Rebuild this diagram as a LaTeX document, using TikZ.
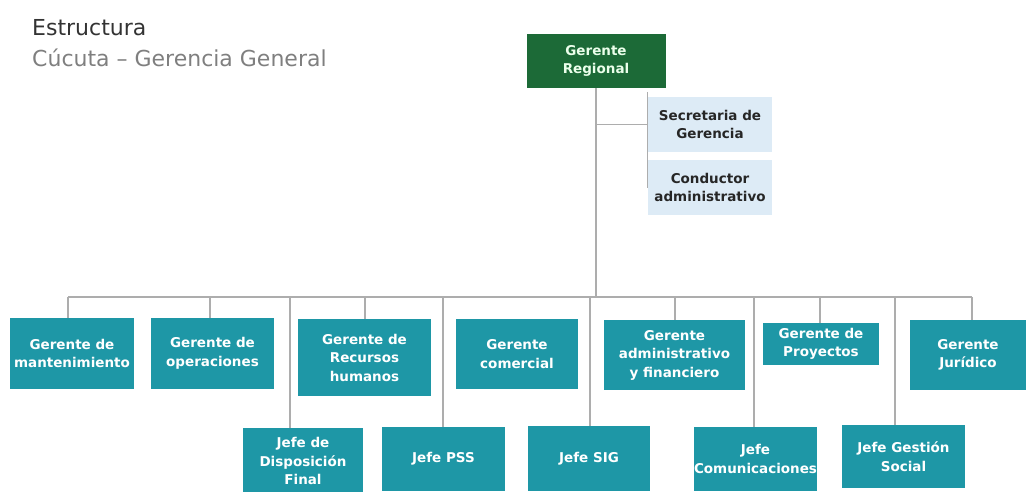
\documentclass[tikz,border=0pt]{standalone}
\usepackage{fontspec}
\setmainfont{DejaVu Sans}
\definecolor{verdereg}{HTML}{1C6A37}
\definecolor{tealcaja}{HTML}{1E97A6}
\definecolor{azulapoyo}{HTML}{DDEBF6}
\definecolor{gristr}{HTML}{ADADAD}
\definecolor{titgris}{HTML}{333333}
\definecolor{subgris}{HTML}{7F7F7F}
\begin{document}
\begin{tikzpicture}[x=1pt,y=-1pt,
    caja/.style={rectangle, inner sep=0pt, align=center, font=\bfseries\fontsize{13.5}{18.5}\selectfont},
    gerbox/.style={caja, fill=tealcaja, text=white},
    regbox/.style={caja, fill=verdereg, text=green!8!white},
    apoyobox/.style={caja, fill=azulapoyo, text=black!85},
    linea/.style={draw=gristr, line width=1.3pt},
    titulo/.style={anchor=base west, inner sep=0pt, font=\fontsize{22}{26}\selectfont}]
    \useasboundingbox (0,0) rectangle (1026,491);
    \clip (0,0) rectangle (1026,491);
    \node[titulo, text=titgris] (tit) at (32,35) {Estructura};
    \node[titulo, text=subgris] (subtit) at (32,66) {Cúcuta – Gerencia General};
    \coordinate (busizq) at (68,297);
    \coordinate (busder) at (972,297);
    \node[regbox, minimum width=139pt, minimum height=54pt] (reg) at (596,61) {Gerente\\Regional};
    \node[apoyobox, minimum width=124pt, minimum height=55pt] (sec) at (710,124.5) {Secretaria de\\Gerencia};
    \node[apoyobox, minimum width=124pt, minimum height=55pt] (cond) at (710,187.5) {Conductor\\administrativo};
    \node[gerbox, minimum width=124pt, minimum height=71pt] (mant) at (72,353.5) {Gerente de\\mantenimiento};
    \node[gerbox, minimum width=123pt, minimum height=71pt] (oper) at (212.5,353.5) {Gerente de\\operaciones};
    \node[gerbox, minimum width=133pt, minimum height=77pt] (rrhh) at (364.5,357.5) {Gerente de\\Recursos\\humanos};
    \node[gerbox, minimum width=122pt, minimum height=70pt] (com) at (517,354) {Gerente\\comercial};
    \node[gerbox, minimum width=141pt, minimum height=70pt] (adm) at (674.5,355) {Gerente\\administrativo\\y financiero};
    \node[gerbox, minimum width=116pt, minimum height=42pt] (proy) at (821,344) {Gerente de\\Proyectos};
    \node[gerbox, minimum width=116pt, minimum height=70pt] (jur) at (968,355) {Gerente\\Jurídico};
    \node[gerbox, minimum width=120pt, minimum height=66pt] (disp) at (303,461) {Jefe de\\Disposición\\Final};
    \node[gerbox, minimum width=123pt, minimum height=64pt] (pss) at (443.5,459) {Jefe PSS};
    \node[gerbox, minimum width=122pt, minimum height=65pt] (sig) at (589,458.5) {Jefe SIG};
    \node[gerbox, minimum width=123pt, minimum height=64pt] (comu) at (755.5,459) {Jefe\\Comunicaciones};
    \node[gerbox, minimum width=123pt, minimum height=63pt] (soc) at (903.5,456.5) {Jefe Gestión\\Social};
    \draw[linea] (reg.south) -- (reg.south |- busizq);
    \draw[linea] (reg.south |- sec.west) -- (sec.west);
    \draw[linea] ([yshift=5pt]sec.north west) -- (cond.west);
    \draw[linea] (busizq) -- (busder);
    \foreach \xb/\dest in {68/mant, 210/oper, 290/disp, 365/rrhh, 443/pss, 590/sig, 675/adm, 754/comu, 820/proy, 895/soc, 972/jur}
        \draw[linea] (\xb,0 |- busizq) -- (\xb,0 |- \dest.north);
\end{tikzpicture}
\end{document}
